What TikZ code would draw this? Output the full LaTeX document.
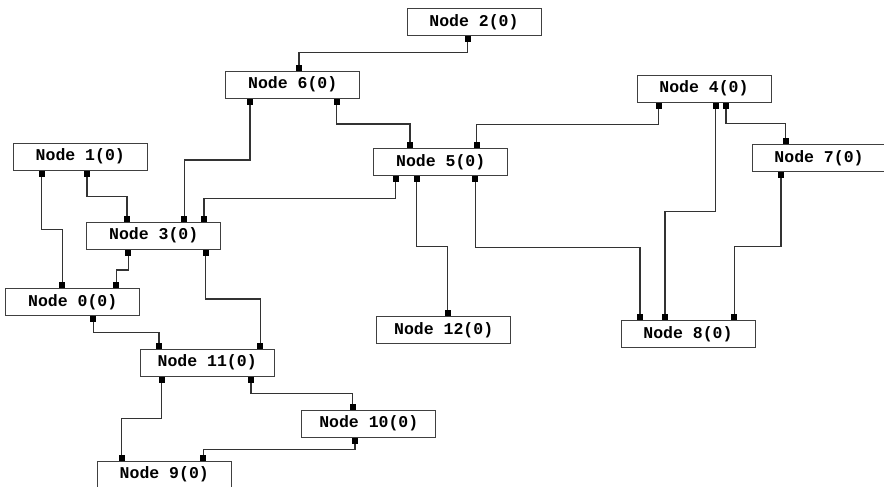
\documentclass[tikz,border=0pt]{standalone}
\usepackage{fontspec}
\setmonofont{Liberation Mono}
\usetikzlibrary{arrows.meta}
\tikzset{
  box/.style={draw=black!75, line width=1pt, fill=white, rectangle, minimum width=134pt, minimum height=27pt, inner sep=0pt,
    font=\fontsize{16.5}{18}\selectfont\ttfamily\bfseries},
  endmark/.tip={Square[length=6pt,width=6pt,black]},
  conn/.style={draw=black!80, line width=1.1pt, endmark-endmark}
}
\newcommand\conn[5]{\draw[conn] ([xshift=#2pt]#1.south) -- ++(0,#3) -| ([xshift=#5pt]#4.north);}
\begin{document}
\begin{tikzpicture}[x=1pt,y=-1pt]
\useasboundingbox (0,0) rectangle (884,487);
\fill[white] (0,0) rectangle (884,487);
\node[box] (n2) at (474,21.8) {Node 2(0)};
\node[box] (n6) at (292.7,84.7) {Node 6(0)};
\node[box] (n5) at (440.7,162.2) {Node 5(0)};
\node[box] (n1) at (80.3,156.7) {Node 1(0)};
\node[box] (n3) at (153.7,235.7) {Node 3(0)};
\node[box] (n0) at (72.7,302.3) {Node 0(0)};
\node[box] (n4) at (704,88.7) {Node 4(0)};
\node[box] (n7) at (819,157.8) {Node 7(0)};
\node[box] (n8) at (688,334) {Node 8(0)};
\node[box] (n11) at (207.2,362.5) {Node 11(0)};
\node[box] (n10) at (368.8,423.5) {Node 10(0)};
\node[box] (n9) at (164.3,474.5) {Node 9(0)};
\node[box] (n12) at (443.7,330.2) {Node 12(0)};
\conn{n2}{-6.3}{17}{n6}{6.3}
\conn{n6}{44}{25.3}{n5}{-30.7}
\conn{n6}{-42.7}{61.3}{n3}{30.6}
\conn{n5}{-45.2}{22.3}{n3}{50.3}
\conn{n4}{-45.3}{22.2}{n5}{36}
\conn{n4}{22}{20.6}{n7}{-33.3}
\conn{n4}{11.7}{108.9}{n8}{-23}
\conn{n7}{-38}{74.4}{n8}{46.3}
\conn{n5}{34.6}{71.6}{n8}{-48}
\conn{n5}{-24}{70.3}{n12}{4}
\conn{n1}{6.7}{25.7}{n3}{-26.7}
\conn{n1}{-38.6}{58.7}{n0}{-10.4}
\conn{n3}{-25.4}{20.3}{n0}{43.6}
\conn{n3}{52}{49.3}{n11}{53.1}
\conn{n0}{20.6}{15.9}{n11}{-48.2}
\conn{n11}{-45.5}{42}{n9}{-42.6}
\conn{n11}{43.8}{17}{n10}{-16.1}
\conn{n10}{-13.8}{11.7}{n9}{39}
\end{tikzpicture}
\end{document}
